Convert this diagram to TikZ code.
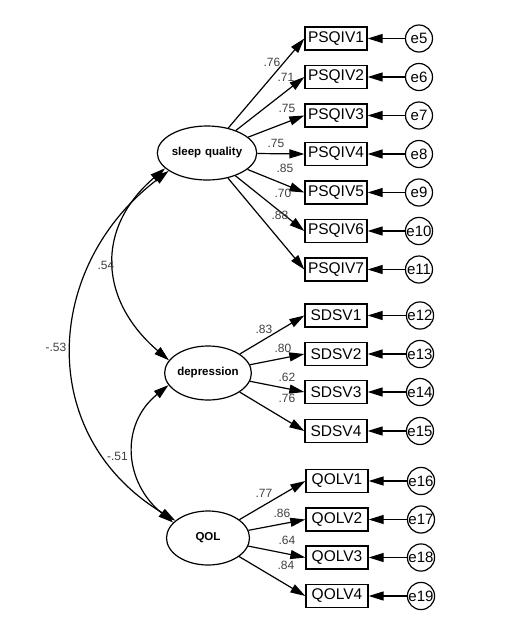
\documentclass[tikz,border=0pt]{standalone}
\usepackage{fontspec}
\setmainfont{Liberation Sans}
\usetikzlibrary{arrows.meta,shapes.geometric}
\begin{document}
\begin{tikzpicture}[x=1pt,y=-1pt,
  lat/.style={draw, line width=1.2pt, ellipse, minimum width=83pt, minimum height=54pt, inner sep=0pt, font=\fontsize{11.5}{13}\selectfont\bfseries},
  obs/.style={draw, line width=1.3pt, rectangle, minimum width=62pt, minimum height=23pt, inner sep=0pt, font=\fontsize{15.5}{18}\selectfont},
  err/.style={draw, line width=1.2pt, circle, minimum size=27pt, inner sep=0pt, font=\fontsize{15}{18}\selectfont},
  tip/.tip={Triangle[length=15pt,width=9pt]},
  load/.style={line width=1.2pt, -tip},
  cov/.style={line width=1.2pt, tip-tip},
  coef/.style={font=\fontsize{12}{14}\selectfont, text=black!75, inner sep=0pt}
]
\useasboundingbox (0,0) rectangle (505,622);

% latent variables
\node[lat] (sq)  at (207,153) {sleep\,\,quality};
\node[lat] (dep) at (208,373) {depression};
\node[lat] (qol) at (208,538) {QOL};

% PSQI indicators
\foreach \i/\y/\e in {1/38.5/5, 2/77/6, 3/115.5/7, 4/154/8, 5/192.5/9, 6/231/10, 7/269.5/11}{
  \node[obs] (p\i) at (336,\y) {PSQIV\i};
  \node[err] (e\e) at (419,\y) {e\e};
  \draw[load] (sq) -- (p\i.west);
  \draw[load] (e\e) -- (p\i.east);
}
% SDS indicators
\foreach \i/\y/\e in {1/315.5/12, 2/354/13, 3/392/14, 4/431/15}{
  \node[obs] (s\i) at (336,\y) {SDSV\i};
  \node[err] (e\e) at (420,\y) {e\e};
  \draw[load] (dep) -- (s\i.west);
  \draw[load] (e\e) -- (s\i.east);
}
% QOL indicators
\foreach \i/\y/\e in {1/481/16, 2/519.5/17, 3/557.5/18, 4/596/19}{
  \node[obs] (q\i) at (337,\y) {QOLV\i};
  \node[err] (e\e) at (421,\y) {e\e};
  \draw[load] (qol) -- (q\i.west);
  \draw[load] (e\e) -- (q\i.east);
}

% loadings
\node[coef] (l1) at (272,62) {.76};
\node[coef] (l2) at (286,77) {.71};
\node[coef] (l3) at (287,108) {.75};
\node[coef] (l4) at (276,143) {.75};
\node[coef] (l5) at (285,168) {.85};
\node[coef] (l6) at (283,193) {.70};
\node[coef] (l7) at (280,215) {.88};
\node[coef] (m1) at (264,329) {.83};
\node[coef] (m2) at (283,348) {.80};
\node[coef] (m3) at (287,377) {.62};
\node[coef] (m4) at (287,398) {.76};
\node[coef] (n1) at (264,493) {.77};
\node[coef] (n2) at (282,513) {.86};
\node[coef] (n3) at (287,540) {.64};
\node[coef] (n4) at (286,565) {.84};

% covariances
\draw[cov] (sq.200) .. controls +(-70,60) and +(-70,-60) .. (dep.162);
\draw[cov] (sq.205) .. controls +(-125,95) and +(-141,-85) .. (qol.152);
\draw[cov] (dep.197) .. controls +(-49,40) and +(-49,-40) .. (qol.156);
\node[coef] (c1) at (106,265) {.54};
\node[coef] (c2) at (56,347) {-.53};
\node[coef] (c3) at (117.5,456) {-.51};
\end{tikzpicture}
\end{document}
